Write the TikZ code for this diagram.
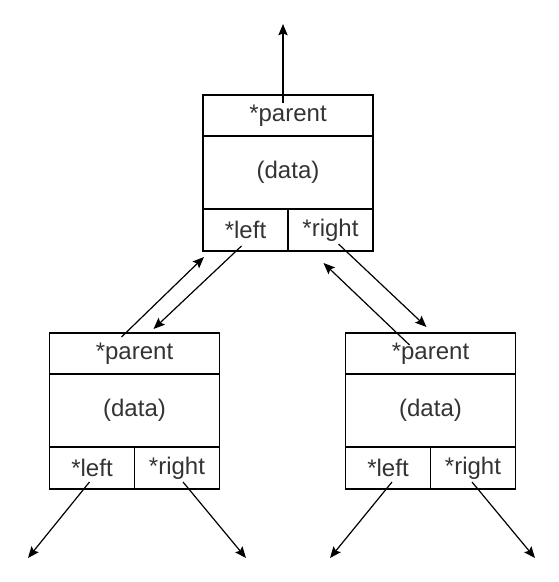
\documentclass[tikz,border=0pt]{standalone}
\usepackage{fontspec}
\setmainfont{Liberation Sans}
\usepackage{tikz}
\usetikzlibrary{positioning,calc,arrows.meta}
\definecolor{textgray}{gray}{0.2}
\tikzstyle{arrow} = [-{Stealth[length=8.5pt,width=7pt,inset=1.5pt]}, line width=0.9pt]
\tikzset{
    cell/.style={draw, line width=1pt, inner sep=0pt, outer sep=0pt, minimum width=127.5pt,
        text=textgray, font=\fontsize{18pt}{21pt}\selectfont},
    half/.style={cell, minimum width=63.75pt, minimum height=31.5pt}
}

\begin{document}
\begin{tikzpicture}[x=0.75pt, y=-0.75pt]
    \useasboundingbox (0,0) rectangle (559,582);

    % Tree nodes
    \foreach \n/\cx/\ty in {root/288/95, lkid/134.5/333, rkid/430.5/333} {
        \node[cell, minimum height=30.75pt, anchor=north] (\n-p) at (\cx,\ty) {*parent};
        \node[cell, minimum height=54.75pt, below=0pt of \n-p] (\n-d) {(data)};
        \node[half, anchor=north west] (\n-l) at (\n-d.south west) {*left};
        \node[half, anchor=north east] (\n-r) at (\n-d.south east) {*right};
    }

    % Parent of the root
    \coordinate (up) at (283,24);
    \draw[arrow] ([shift={(-5,8)}]root-p.north) -- (up);

    % Root <-> left child
    \draw[arrow] ([shift={(-13,4)}]lkid-p.north) -- ([shift={(1,6)}]root-l.south west);
    \draw[arrow] ([shift={(-4,-5)}]root-l.south) -- ([shift={(19,-4)}]lkid-p.north);

    % Root <-> right child
    \draw[arrow] ([shift={(8,-7)}]root-r.south) -- ([shift={(-4,-6)}]rkid-p.north);
    \draw[arrow] ([shift={(-21,12)}]rkid-p.north) -- ([shift={(-7,12)}]root-r.south);

    % Children of the leaves
    \foreach \c/\dx/\ex in {lkid-l/-2.5/28, lkid-r/6/246, rkid-l/4/330, rkid-r/-1/535} {
        \coordinate (\c-end) at (\ex,558);
        \draw[arrow] ([shift={(\dx,-7)}]\c.south) -- (\c-end);
    }
\end{tikzpicture}
\end{document}
